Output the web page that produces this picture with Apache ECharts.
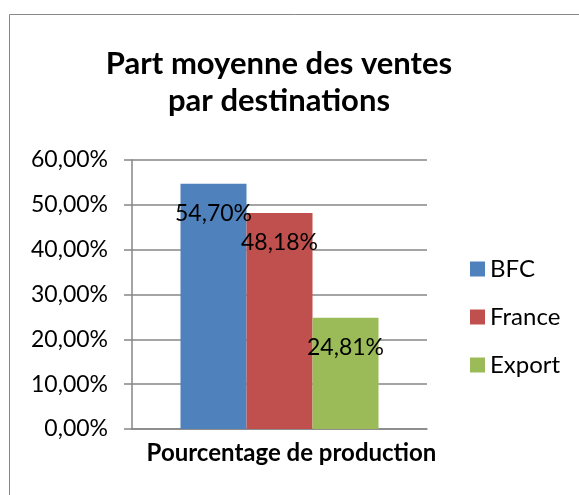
<!DOCTYPE html>
<html>
<head>
<meta charset="utf-8">
<script src="https://cdn.jsdelivr.net/npm/echarts@6/dist/echarts.min.js"></script>
<style>
  html, body { margin: 0; padding: 0; background: #fff; }
  #main { width: 579px; height: 495px; }
</style>
</head>
<body>
<div id="main"></div>
<script>
// categories and series
const categories = ['Pourcentage de production'];
const seriesNames = ['BFC', 'France', 'Export'];
const bfcValues = [0.5470];
const franceValues = [0.4818];
const exportValues = [0.2481];
const colors = ['#4F81BD', '#C0504D', '#9BBB59'];

const FONT = 'Lato';

// format 0.547 -> "54,70%"
function pct(v) {
    return (v * 100).toFixed(2).replace('.', ',') + '%';
}

function makeSeries(name, data, color) {
    return {
        name: name,
        type: 'bar',
        data: data,
        barWidth: 66,
        barGap: '0%',
        itemStyle: { color: color },
        label: {
            show: true,
            position: ['50%', 30],
            align: 'center',
            verticalAlign: 'middle',
            color: '#000',
            fontFamily: FONT,
            fontSize: 23,
            formatter: (p) => pct(p.value)
        }
    };
}

const chart = echarts.init(document.getElementById('main'));
chart.setOption({
    animation: false,
    backgroundColor: '#fff',
    title: {
        text: 'Part moyenne des ventes\npar destinations',
        left: 274,
        top: 40,
        textAlign: 'center',
        textStyle: {
            fontFamily: FONT,
            fontWeight: 'bold',
            fontSize: 31,
            lineHeight: 37,
            color: '#000'
        }
    },
    graphic: [{
        type: 'rect',
        shape: { x: 9.5, y: 14.5, width: 600, height: 520 },
        style: { fill: 'none', stroke: '#888', lineWidth: 1 },
        silent: true
    }],
    legend: {
        orient: 'vertical',
        left: 465,
        top: 250,
        itemWidth: 15,
        itemHeight: 15,
        itemGap: 20,
        icon: 'rect',
        data: seriesNames,
        textStyle: {
            fontFamily: FONT,
            fontSize: 24,
            lineHeight: 28,
            color: '#000',
            padding: [0, 0, 0, 0]
        }
    },
    grid: { left: 132, right: 152, top: 160, bottom: 66 },
    xAxis: {
        type: 'category',
        data: categories,
        axisLine: { lineStyle: { color: '#868686', width: 1.5 } },
        axisTick: { show: false },
        axisLabel: {
            margin: 12,
            fontFamily: FONT,
            fontWeight: 'bold',
            fontSize: 24,
            color: '#000',
            padding: [0, 0, 0, 24]
        }
    },
    yAxis: {
        type: 'value',
        min: 0,
        max: 0.6,
        interval: 0.1,
        axisLine: { show: true, lineStyle: { color: '#868686', width: 1.5 } },
        axisTick: { show: true, inside: false, length: 8, lineStyle: { color: '#868686', width: 1.5 } },
        splitLine: { lineStyle: { color: '#868686', width: 1.5 } },
        axisLabel: {
            margin: 24,
            fontFamily: FONT,
            fontSize: 23,
            color: '#000',
            formatter: (v) => pct(v)
        }
    },
    series: [
        makeSeries(seriesNames[0], bfcValues, colors[0]),
        makeSeries(seriesNames[1], franceValues, colors[1]),
        makeSeries(seriesNames[2], exportValues, colors[2])
    ]
});
</script>
</body>
</html>
